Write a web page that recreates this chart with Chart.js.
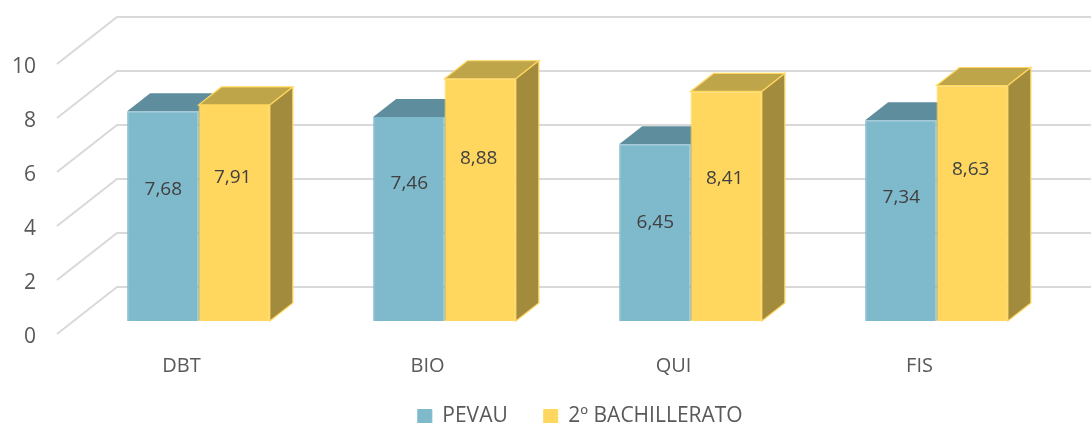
<!DOCTYPE html>
<html><head><meta charset="utf-8">
<style>html,body{margin:0;padding:0;background:#fff}canvas{display:block}</style>
<script src="https://cdn.jsdelivr.net/npm/chart.js@4/dist/chart.umd.min.js"></script>
</head><body><canvas id="c" width="1091" height="423"></canvas>
<script>
const categories = ["DBT","BIO","QUI","FIS"];
const pevau = [7.68,7.46,6.45,7.34];
const bachillerato = [7.91,8.88,8.41,8.63];
const seriesNames = ["PEVAU","2º BACHILLERATO"];
// heights (in axis units) at which the hand-placed value labels sit in the reference
const pevauLabelAt = [4.76,4.98,3.55,4.48];
const bachLabelAt = [5.23,5.93,5.19,5.52];
const FONT = '"Open Sans", sans-serif';
const DEPTH_X = 23, DEPTH_Y = 18;
const palette = [
 {front:'#7FB9CC',top:'#5E8E9D',side:'#5E8E9D',edge:'#7FB9CC'},
 {front:'#FFD75F',top:'#BFA54A',side:'#A28B3C',edge:'#FFD75F'}
];
const box3d = {
 id:'box3d',
 afterLayout(chart){
   const lg = chart.legend;
   lg.left += 101;
   lg.top += 16;
   lg.bottom = chart.height + 20;
   chart.scales.x.bottom = lg.top + 6;
 },
 beforeDatasetsDraw(chart){
   const c = chart.ctx, y = chart.scales.y, a = chart.chartArea;
   c.save();
   c.strokeStyle='#D9D9D9'; c.lineWidth=2; c.lineJoin='miter';
   y.ticks.forEach((t,i)=>{
     const p = y.getPixelForTick(i);
     c.beginPath();
     c.moveTo(a.left-18.5,p+15.5);
     c.lineTo(a.left+41.5,p-31.5);
     c.lineTo(1091,p-31.5);
     c.stroke();
   });
   chart.data.datasets.forEach((d,di)=>{
     const col = palette[di];
     chart.getDatasetMeta(di).data.forEach(b=>{
       const l=b.x-b.width/2, r=b.x+b.width/2, t=b.y, base=b.base;
       c.lineWidth=1.2; c.strokeStyle=col.edge;
       c.fillStyle=col.top;
       c.beginPath();c.moveTo(l,t);c.lineTo(l+DEPTH_X,t-DEPTH_Y);c.lineTo(r+DEPTH_X,t-DEPTH_Y);c.lineTo(r,t);c.closePath();c.fill();
       if(di===1)c.stroke();
       c.fillStyle=col.side;
       c.beginPath();c.moveTo(r,t);c.lineTo(r+DEPTH_X,t-DEPTH_Y);c.lineTo(r+DEPTH_X,base-DEPTH_Y);c.lineTo(r,base);c.closePath();c.fill();
       if(di===1)c.stroke();
     });
   });
   c.restore();
 },
 afterDatasetsDraw(chart){
   const c = chart.ctx, y = chart.scales.y;
   c.save();
   c.font='19px '+FONT; c.fillStyle='#404040'; c.textAlign='center'; c.textBaseline='middle';
   [pevauLabelAt,bachLabelAt].forEach((arr,di)=>{
     const shift = di===0 ? 0.5 : -1.5;
     chart.getDatasetMeta(di).data.forEach((b,i)=>{
       const v = chart.data.datasets[di].data[i];
       c.fillText(v.toFixed(2).replace('.',','), b.x+shift, y.getPixelForValue(arr[i]));
     });
   });
   c.restore();
 }
};
new Chart(document.getElementById('c'),{
 type:'bar',
 data:{labels:categories,datasets:[
  {label:seriesNames[0],data:pevau,backgroundColor:palette[0].front,borderColor:palette[0].edge,borderWidth:1,base:-0.09,clip:false},
  {label:seriesNames[1],data:bachillerato,backgroundColor:palette[1].front,borderColor:palette[1].edge,borderWidth:1,base:-0.09,clip:false}
 ]},
 options:{
  responsive:false,animation:false,
  layout:{padding:{top:48.5,right:31.5,left:0,bottom:2}},
  datasets:{bar:{barPercentage:1,categoryPercentage:0.58}},
  scales:{
   x:{grid:{display:false},border:{display:false},
      ticks:{color:'#595959',font:{family:FONT,size:20},labelOffset:-17,padding:27.5,maxRotation:0},
      afterFit(s){s.height=35.5;}},
   y:{min:0,max:10,grid:{display:false},border:{display:false},
      ticks:{stepSize:2,color:'#595959',font:{family:FONT,size:21},labelOffset:18.5,padding:31.5},
      afterFit(s){s.width=75.5;}}
  },
  plugins:{
   tooltip:{enabled:false},
   legend:{position:'bottom',labels:{color:'#595959',font:{family:FONT,size:21},boxWidth:14,boxHeight:14,padding:36}}
  }
 },
 plugins:[box3d]
});
</script></body></html>
